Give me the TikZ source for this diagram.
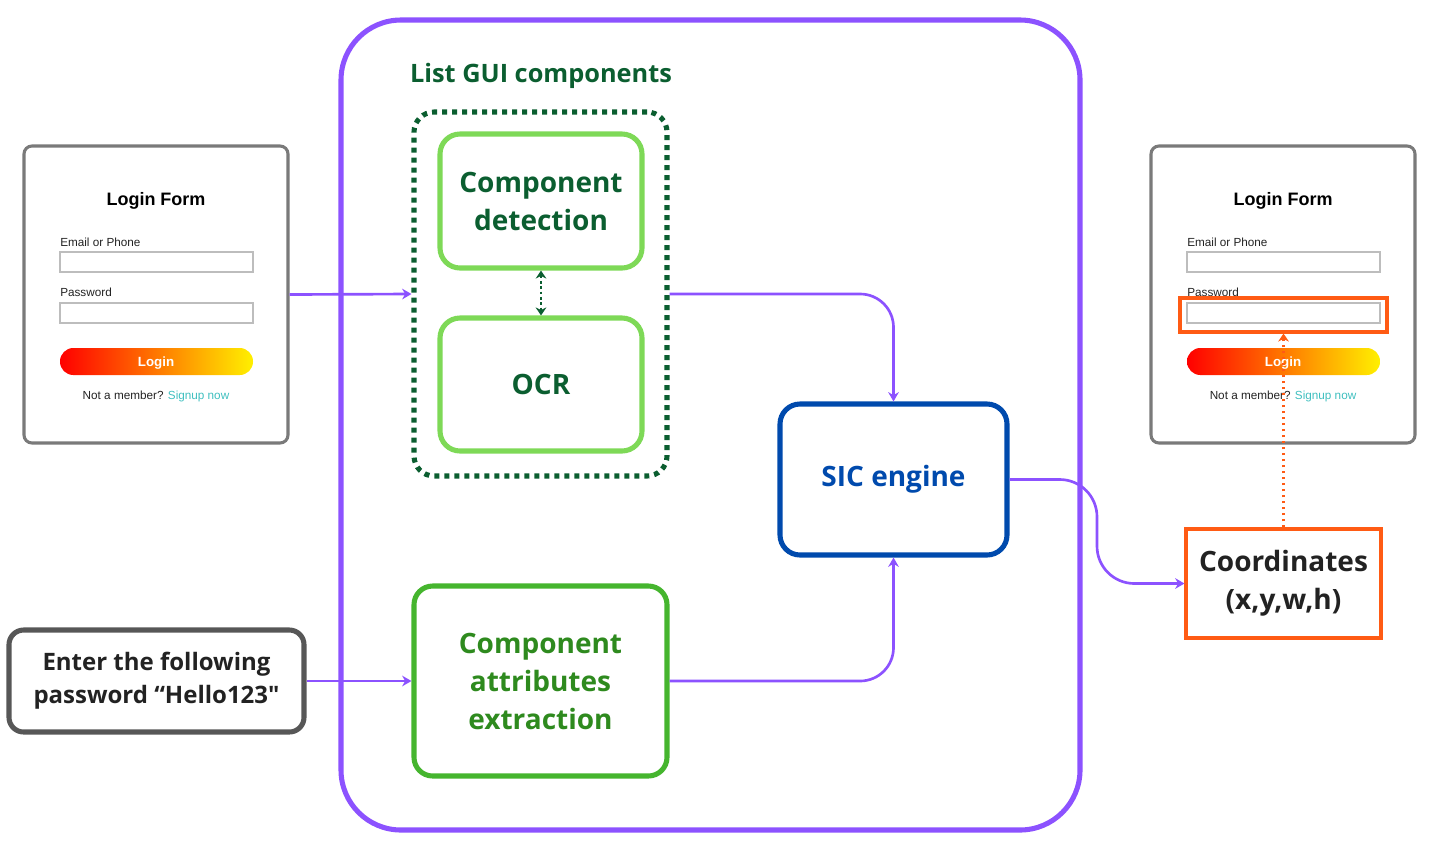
\documentclass[tikz,border=0pt]{standalone}
\usepackage{fontspec}
\setmainfont{Open Sans}
\newfontfamily\arialf{Liberation Sans}
\usetikzlibrary{arrows.meta,fit,calc}
\definecolor{cpurple}{HTML}{8C52FF}
\definecolor{cdgreen}{HTML}{0B5E30}
\definecolor{clgreen}{HTML}{7ED957}
\definecolor{cgreen}{HTML}{45B52E}
\definecolor{cgreentxt}{HTML}{2E8A1E}
\definecolor{cblue}{HTML}{004AAD}
\definecolor{cgray}{HTML}{575757}
\definecolor{cformgray}{HTML}{7A7A7A}
\definecolor{cfield}{HTML}{BDBDBD}
\definecolor{corange}{HTML}{FF5B14}
\definecolor{cteal}{HTML}{3FBFBF}
\definecolor{ctext}{HTML}{222222}
\tikzset{
  sz/.style 2 args={minimum width=#1*0.75pt, minimum height=#2*0.75pt},
  box/.style={draw, inner sep=0pt, align=center, font=\bfseries\fontsize{21}{28.5}\selectfont},
  arr/.style={draw=cpurple, line width=2pt, -{Stealth[length=7pt,width=8pt]}},
  formbox/.style={draw=cformgray, line width=2.3pt, rounded corners=6pt, inner sep=0pt},
  field/.style={draw=cfield, line width=1pt, inner sep=0pt},
  small/.style={font=\arialf\fontsize{8.8}{10}\selectfont, text=ctext, inner sep=0pt},
}
\newcommand\loginform[2]{%
  \begin{scope}[shift={(#1,0)}]
    \node[formbox, sz={264}{297}] (#2) at (156,294.5) {};
    \node[font=\arialf\bfseries\fontsize{13.5}{16}\selectfont, text=black] (#2title) at (156,201) {Login Form};
    \node[small, anchor=west] (#2lemail) at (60,242) {Email or Phone};
    \node[field, sz={193}{20}] (#2email) at (156.5,262) {};
    \node[small, anchor=west] (#2lpw) at (60,292) {Password};
    \node[field, sz={193}{20}] (#2pw) at (156.5,313) {};
    \shade[rounded corners=10pt, left color=red, middle color={rgb,255:red,255;green,125;blue,0}, right color={rgb,255:red,255;green,240;blue,0}] (60,348) rectangle (253,375);
    \node[font=\arialf\bfseries\fontsize{10}{12}\selectfont, text=white] (#2login) at (156,363) {Login};
    \node[small] (#2member) at (156,396) {Not a member? \textcolor{cteal}{Signup now}};
  \end{scope}%
}
\begin{document}
\begin{tikzpicture}[x=0.75pt,y=-0.75pt]
\useasboundingbox (0,0) rectangle (1433,854);
% big container
\node[draw=cpurple, line width=3.8pt, rounded corners=45pt, inner sep=0pt, sz={739}{810}] (big) at (710.5,425) {};
\node[font=\bfseries\fontsize{19}{23}\selectfont, text=cdgreen] (title) at (541,76) {List GUI components};
% dotted group
\node[draw=cdgreen, line width=3.8pt, dash pattern=on 3.75pt off 3.75pt, rounded corners=15pt, inner sep=0pt, sz={253}{364}] (grp) at (540.5,294) {};
\node[box, draw=clgreen, line width=3.8pt, rounded corners=15pt, text=cdgreen, sz={202}{134}] (cd) at (541,201) {Component\\detection};
\node[box, draw=clgreen, line width=3.8pt, rounded corners=15pt, text=cdgreen, sz={202}{133}] (ocr) at (541,384.5) {OCR};
\draw[draw=cdgreen, line width=2pt, dash pattern=on 2pt off 2pt, {Stealth[length=6pt,width=8pt]}-{Stealth[length=6pt,width=8pt]}] (cd.south) -- (ocr.north);
% SIC
\node[box, draw=cblue, line width=3.8pt, rounded corners=15pt, text=cblue, sz={227}{151}] (sic) at (893.5,479.5) {SIC engine};
% CAE
\node[box, draw=cgreen, line width=3.8pt, rounded corners=14pt, text=cgreentxt, sz={253}{190}] (cae) at (540.5,681) {Component\\attributes\\extraction};
% Enter
\node[draw=cgray, line width=3.8pt, rounded corners=11pt, inner sep=0pt, align=center, text=ctext, font=\bfseries\fontsize{18}{24.75}\selectfont, sz={295}{102}] (enter) at (156.5,681) {Enter the following\\password “Hello123{\addfontfeature{Ligatures=TeXOff}"}};
% Coordinates
\node[box, draw=corange, line width=2.3pt, text=ctext, sz={195}{109}] (coord) at (1283.5,583.5) {Coordinates\\(x,y,w,h)};
% forms
\loginform{0}{formL}
\loginform{1127}{formR}
\node[draw=corange, line width=2.3pt, inner sep=0pt, sz={207}{34}] (hl) at (1283.5,315) {};
% connectors
\draw[arr] (formL.east) -- (grp.west);
\draw[arr, rounded corners=25pt] (grp.east) -| (sic.north);
\draw[arr] (enter.east) -- (cae.west);
\draw[arr, rounded corners=25pt] (cae.east) -| (sic.south);
\coordinate (mid) at ($(sic.east)!0.5!(coord.west)$);
\draw[arr, rounded corners=28pt] (sic.east) -- (sic.east -| mid) -- (coord.west -| mid) -- (coord.west);
\draw[draw=corange, line width=2pt, dash pattern=on 2pt off 2.5pt, -{Stealth[length=6pt,width=8pt]}] (coord.north) -- (hl.south);
\end{tikzpicture}
\end{document}
